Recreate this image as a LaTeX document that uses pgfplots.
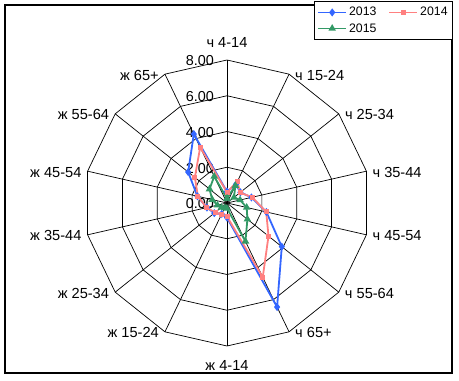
\documentclass[border=0pt]{standalone}
\usepackage{pgfplots}
\pgfplotsset{compat=1.18}
\usepackage{fontspec}
\setmainfont{Liberation Sans}
\definecolor{cB}{RGB}{51,102,255}
\definecolor{cP}{RGB}{255,128,128}
\definecolor{cG}{RGB}{51,153,102}
\pgfplotstableread{
ang v13 v14 v15
90 0.63 0.60 0.25
64.29 1.16 1.35 1.08
38.57 0.96 0.93 0.50
12.86 1.40 1.45 0.75
-12.86 2.26 2.25 1.13
-38.57 3.92 2.97 1.46
-64.29 6.46 4.61 2.38
-90 0.82 0.75 0.30
-115.71 0.68 0.70 0.30
-141.43 0.91 0.85 0.40
-167.14 1.15 1.17 0.55
167.14 1.70 1.67 0.85
141.43 2.78 2.30 1.25
115.71 4.28 3.46 1.65
90 0.63 0.60 0.25
}\data
\begin{document}
\begin{tikzpicture}
\useasboundingbox (0,0) rectangle (459bp,381bp);
\draw[line width=1.2bp] (5bp,8bp) rectangle (452bp,376bp);
\coordinate (C) at (227bp,178bp);
\def\R{17.875bp}
\foreach \r in {2,4,6,8} {
  \draw[black, line width=0.7bp] ([shift={(90:{\r*\R})}]C)
    \foreach \k in {1,...,13} { -- ([shift={({90-\k*360/14}:{\r*\R})}]C) } -- cycle;
}
\foreach \k in {0,...,13} {
  \draw[black, line width=0.7bp] (C) -- ([shift={({90-\k*360/14}:{8*\R})}]C);
}
\tikzset{lab/.style={inner sep=0pt, font=\fontsize{14.6bp}{16bp}\selectfont}}
\node[lab, anchor=south] at ([shift={(0,{8*\R+12bp})}]C) {ч 4-14};
\node[lab, anchor=north] at ([shift={(0,{-8*\R-14bp})}]C) {ж 4-14};
\foreach \k/\t in {1/ч 15-24,2/ч 25-34,3/ч 35-44,4/ч 45-54,5/ч 55-64,6/ч 65+} {
  \pgfmathsetmacro\ang{90-\k*360/14}
  \node[lab, anchor=west] at ([shift={(\ang:{8*\R})}]C) [xshift=6bp, yshift=-1bp] {\t};
}
\foreach \k/\t in {8/ж 15-24,9/ж 25-34,10/ж 35-44,11/ж 45-54,12/ж 55-64,13/ж 65+} {
  \pgfmathsetmacro\ang{90-\k*360/14}
  \node[lab, anchor=east] at ([shift={(\ang:{8*\R})}]C) [xshift=-6bp, yshift=-1bp] {\t};
}
\foreach \r in {0,2,4,6,8} {
  \node[anchor=east, inner sep=0pt, font=\fontsize{14.4bp}{16bp}\selectfont] at ([shift={(-13bp,{\r*\R-1bp})}]C) {\r.00};
}
\begin{axis}[at={(C)}, anchor=origin, x=\R, y=\R,
  xmin=-8, xmax=8, ymin=-8, ymax=8, hide axis, clip=false,
  legend columns=2,
  legend style={at={(1.2902,1.2063)}, anchor=north east, draw=black, line width=0.8bp,
    font=\fontsize{12.3bp}{14bp}\selectfont, inner xsep=3bp, inner ysep=4bp, row sep=2bp,
    /tikz/every even column/.append style={column sep=10bp}},
  legend image code/.code={\draw[mark repeat=2,mark phase=2] plot coordinates {(0bp,0bp) (14bp,0bp) (28bp,0bp)};},
]
\addplot[cB, line width=1.8bp, mark=diamond*, mark size=2.6bp, mark options={solid}, data cs=polar] table[x=ang, y=v13] {\data};
\addlegendentry{2013}
\addplot[cP, line width=1.8bp, mark=square*, mark size=1.6bp, data cs=polar] table[x=ang, y=v14] {\data};
\addlegendentry{2014}
\addplot[cG, line width=1.8bp, mark=triangle*, mark size=2.6bp, data cs=polar] table[x=ang, y=v15] {\data};
\addlegendentry{2015}
\end{axis}
\end{tikzpicture}
\end{document}
